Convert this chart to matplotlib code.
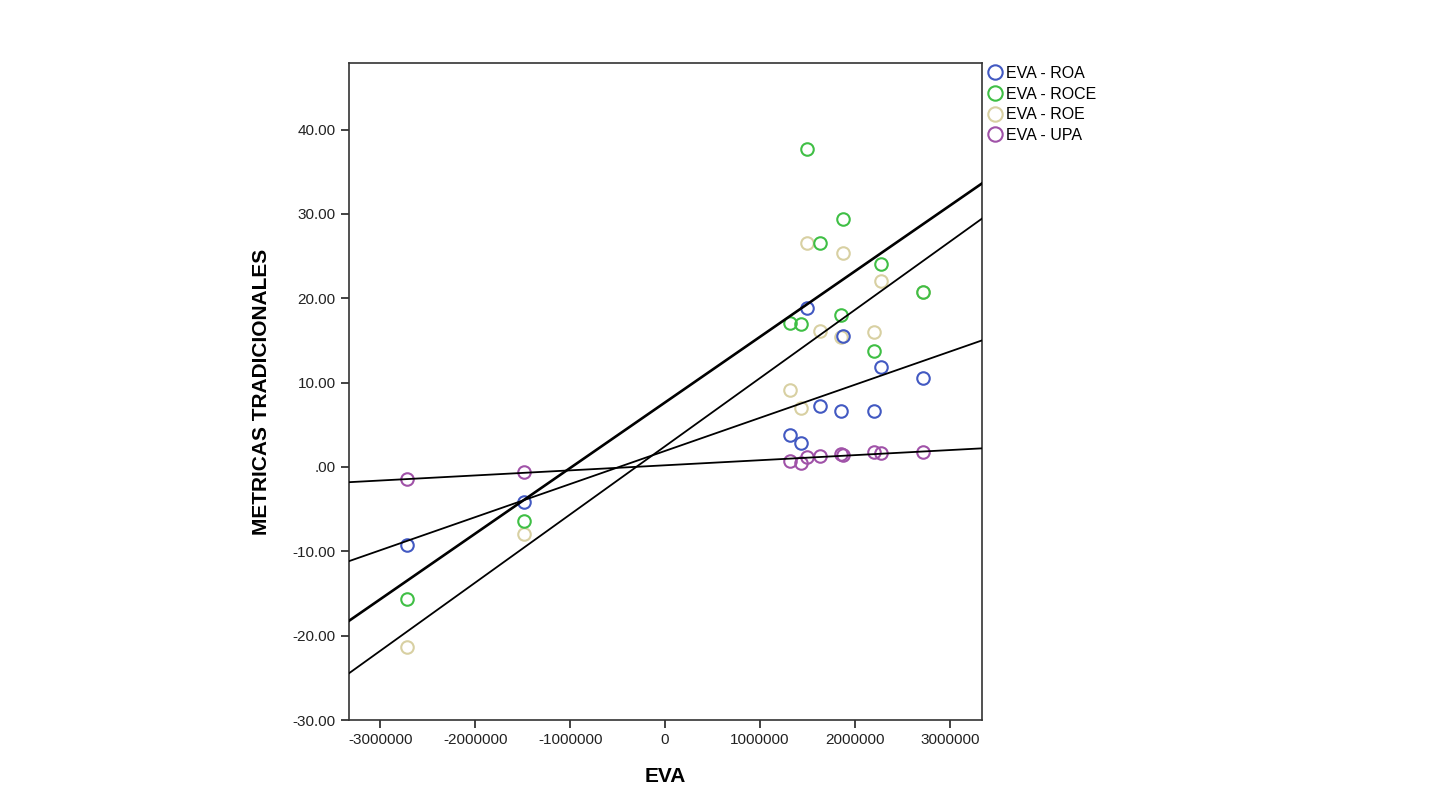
import numpy as np
import matplotlib
matplotlib.use('Agg')
from matplotlib import pyplot as plt
from matplotlib.ticker import FuncFormatter

plt.rcParams['font.family'] = ['Liberation Sans', 'DejaVu Sans']

# EVA per company (same x for every metric)
eva = [-2720000, -1487000, 1319000, 1435000, 1497000, 1634000,
       1853000, 1874000, 2199000, 2272000, 2723000]

roa = [-9.2, -4.1, 3.8, 2.8, 18.8, 7.2, 6.6, 15.5, 6.6, 11.9, 10.5]
roce = [-15.6, -6.4, 17.1, 17.0, 37.7, 26.5, 18.0, 29.4, 13.7, 24.1, 20.7]
roe = [-21.4, -8.0, 9.1, 7.0, 26.6, 16.1, 15.4, 25.4, 16.0, 22.0, 20.7]
upa = [-1.42, -0.59, 0.71, 0.47, 1.18, 1.30, 1.54, 1.42, 1.77, 1.65, 1.77]

series = [('EVA - ROA', roa, '#4259c2', 3, 1.3),
          ('EVA - ROCE', roce, '#3fbf45', 3, 1.9),
          ('EVA - ROE', roe, '#d8d0a2', 2, 1.3),
          ('EVA - UPA', upa, '#a052a8', 3, 1.3)]

xlim = (-3330000, 3340000)
ylim = (-30.0, 47.9)

fig = plt.figure(figsize=(14.37, 8.11), dpi=100)
ax = fig.add_axes([0.2429, 0.1122, 0.4405, 0.8101])

xs = np.array(eva, dtype=float)
xl = np.array(xlim, dtype=float)
for name, vals, col, z, lw in series:
    ax.plot(eva, vals, 'o', ls='none', mfc='none', mec=col, mew=1.5,
            ms=9, label=name, zorder=z)
for name, vals, col, z, lw in series:
    b, a = np.polyfit(xs, np.array(vals), 1)
    ax.plot(xl, a + b * xl, color='black', lw=lw, zorder=4)

ax.set_xlim(*xlim)
ax.set_ylim(*ylim)
ax.set_xticks([-3000000, -2000000, -1000000, 0, 1000000, 2000000, 3000000])
ax.set_yticks([-30, -20, -10, 0, 10, 20, 30, 40])
ax.xaxis.set_major_formatter(FuncFormatter(lambda v, p: '%d' % v))
ax.yaxis.set_major_formatter(FuncFormatter(
    lambda v, p: '.00' if v == 0 else '%.2f' % v))
ax.tick_params(axis='both', direction='out', length=6, width=1.2,
               labelsize=11, colors='#222222')
for s in ax.spines.values():
    s.set_linewidth(1.2)
    s.set_color('#333333')

ax.set_xlabel('EVA', fontsize=15, fontweight='bold', labelpad=14)
ax.set_ylabel('METRICAS TRADICIONALES', fontsize=15, fontweight='bold', labelpad=16)

ax.legend(loc='upper left', bbox_to_anchor=(0.99, 1.01), frameon=False,
          fontsize=11.5, handletextpad=0.1, labelspacing=0.35,
          borderaxespad=0.2, handlelength=1.2, markerscale=1.15)

fig.savefig('out.png', dpi=100)
